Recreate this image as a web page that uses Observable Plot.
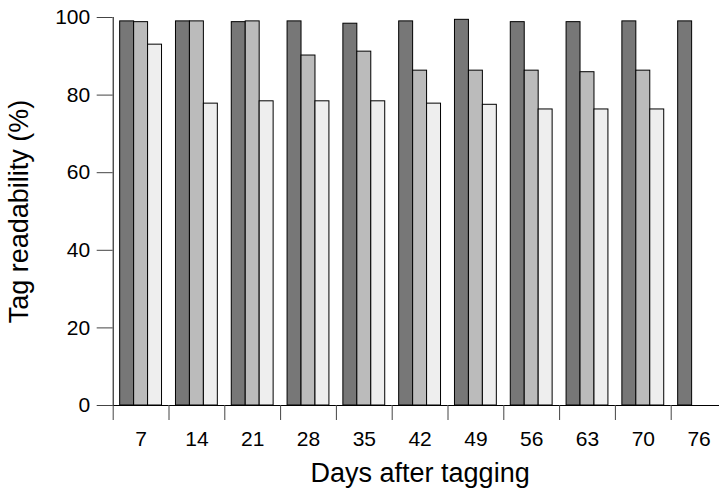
<!DOCTYPE html>
<html>
<head>
<meta charset="utf-8">
<script src="https://cdn.jsdelivr.net/npm/d3@7"></script>
<script src="https://cdn.jsdelivr.net/npm/@observablehq/plot@0.6"></script>
<style>
  html, body { margin: 0; padding: 0; background: #fff; }
  #chart svg { font-family: Arial, "Liberation Sans", sans-serif; }
  #chart g[aria-label="y-axis label"] text,
  #chart g[aria-label="fx-axis label"] text { font-size: 27px; }
</style>
</head>
<body>
<div id="chart"></div>
<script>
const days = ["7", "14", "21", "28", "35", "42", "49", "56", "63", "70", "76"];
const seriesNames = ["A", "B", "C"];
const seriesA = [99.0, 99.0, 98.8, 99.0, 98.4, 99.0, 99.4, 98.8, 98.8, 99.0, 99.0];
const seriesB = [98.8, 99.0, 99.0, 90.2, 91.2, 86.3, 86.3, 86.3, 85.9, 86.3, null];
const seriesC = [93.0, 77.8, 78.4, 78.4, 78.4, 77.8, 77.5, 76.3, 76.3, 76.3, null];
const yTicks = [0, 20, 40, 60, 80, 100];
const colors = ["#777777", "#bbbbbb", "#eeeeee"];

const allSeries = [seriesA, seriesB, seriesC];
const rows = [];
days.forEach((d, i) => {
  allSeries.forEach((s, j) => {
    if (s[i] != null) rows.push({day: d, series: seriesNames[j], value: s[i]});
  });
});

const W = 719, H = 490;
const left = 112.7, right = 726.5;
const halfStep = (right - left) / days.length / 2;

const chart = Plot.plot({
  width: W,
  height: H,
  marginLeft: left,
  marginRight: 6,
  marginTop: 17,
  marginBottom: 85,
  fx: {domain: days, range: [left, right], padding: 0, round: false},
  x: {domain: seriesNames, paddingInner: 0, paddingOuter: 0.5, round: false, axis: null},
  y: {domain: [0, 100]},
  color: {domain: seriesNames, range: colors},
  marks: [
    Plot.barY(rows, {fx: "day", x: "series", y: "value", fill: "series", stroke: "#000", strokeWidth: 1}),
    Plot.frame({anchor: "left", facetAnchor: "left", stroke: "#000"}),
    Plot.ruleY([0], {stroke: "#000"}),
    Plot.axisY({ticks: yTicks, tickSize: 16, tickPadding: 7, fontSize: 21, stroke: "#444", label: "Tag readability (%)", labelAnchor: "center", labelArrow: "none", labelOffset: 104}),
    Plot.axisFx({anchor: "bottom", tickSize: 15, text: null, dx: -halfStep, stroke: "#444", label: null}),
    Plot.axisFx({anchor: "bottom", tickSize: 0, tickPadding: 26, fontSize: 21, label: "Days after tagging", labelAnchor: "center", labelArrow: "none", labelOffset: 76})
  ]
});
document.getElementById("chart").append(chart);
</script>
</body>
</html>
